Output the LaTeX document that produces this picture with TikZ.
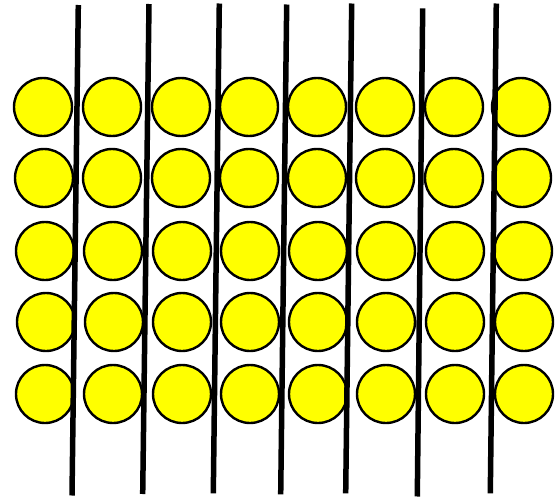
\documentclass[tikz,border=0pt]{standalone}
\definecolor{ballyellow}{RGB}{255,255,0}
\begin{document}
\begin{tikzpicture}[x=1pt,y=-1pt,
  ball/.style={circle,draw=black,fill=ballyellow,line width=2.4pt,minimum size=58pt,inner sep=0pt},
  rod/.style={line width=5.5pt,black}]
\useasboundingbox (0,0) rectangle (558,498);
% rows of balls: y, then x list
\foreach \r/\y/\xs in {1/107/{43,112,181,249,317,385,454,521},
                       2/178/{44,112,181,249,317,385,454,522},
                       3/251/{45,113,182,250,318,386,455,523},
                       4/322/{46,114,182,250,318,386,455,524},
                       5/394/{45,113,182,250,318,386,455,524}} {
  \foreach \x [count=\c] in \xs {
    \node[ball] (b-\r-\c) at (\x,\y) {};
  }
}
% rods
\foreach \i/\xt/\yt/\xb/\yb in {1/78.3/5/72/495.5,
                                2/149/4/142.7/494,
                                3/219.3/3.5/213.3/493.3,
                                4/286.7/4.5/280.7/494.3,
                                5/351.7/3.5/345.7/493.3,
                                6/422.7/8.3/417.3/496.5,
                                7/496.3/3.5/490.3/493.3} {
  \coordinate (t\i) at (\xt,\yt);
  \coordinate (u\i) at (\xb,\yb);
  \draw[rod] (t\i) -- (u\i);
}
\end{tikzpicture}
\end{document}
